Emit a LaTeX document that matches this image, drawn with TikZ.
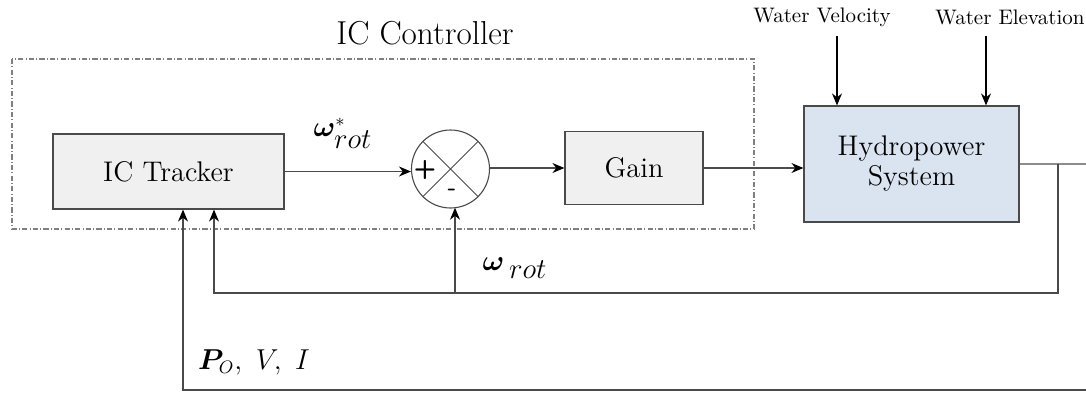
\documentclass[tikz,border=0pt]{standalone}
\usepackage{amsmath,bm}
\usetikzlibrary{arrows.meta,calc}

\definecolor{boxgray}{HTML}{F0F0F0}
\definecolor{plantblue}{HTML}{DAE3F0}
\definecolor{edgegray}{HTML}{4A4A4A}

\begin{document}
\begin{tikzpicture}[
  x=0.5pt, y=-0.5pt,
  link/.style={-{Stealth[length=6pt,width=5pt,color=black]}, line width=0.55pt, draw=edgegray},
  wire/.style={line width=0.55pt, draw=edgegray},
  block/.style={draw=edgegray, line width=0.6pt, fill=boxgray, inner sep=0pt,
    font=\fontsize{14.2}{16}\selectfont},
  plant/.style={block, fill=plantblue, align=center},
  sumnode/.style={circle, draw=edgegray, line width=0.55pt, fill=white, minimum size=39pt, inner sep=0pt},
  frame/.style={draw=black!50, line width=0.55pt, dash pattern=on 2.6pt off 1.1pt on 0.5pt off 1.1pt},
  note/.style={font=\fontsize{10.5}{12}\selectfont},
  sig/.style={font=\fontsize{13.5}{16}\selectfont},
]

\useasboundingbox (0,0) rectangle (1086,392);

% Coordinate system: one unit = one pixel of the 1086 x 392 picture

% Controller frame
\draw[frame] (12,59) rectangle (754,229);
\node[font=\fontsize{16.6}{19}\selectfont] (ctrltitle) at (425,33) {IC Controller};

% Blocks
\node[block, minimum width=115.5pt, minimum height=37.5pt] (tracker) at (168.5,171.5) {IC Tracker};
\node[sumnode] (sum) at (450.5,169) {};
\node[block, minimum width=69pt, minimum height=36.5pt] (gain) at (634,168) {Gain};
\node[plant, minimum width=107.5pt, minimum height=58pt] (hydro) at (911.5,164) {Hydropower\\[-1pt]System};

% Cross and signs of the summing junction
\draw[wire, line width=0.4pt] (sum.north west) -- (sum.south east);
\draw[wire, line width=0.4pt] (sum.north east) -- (sum.south west);
\node[font=\sffamily\bfseries\fontsize{13}{14}\selectfont] (plus) at (425,170) {+};
\node[font=\sffamily\bfseries\fontsize{12}{14}\selectfont] (minus) at (452,192) {-};

% Disturbance inputs
\node[note] (vel) at (822,17) {Water Velocity};
\node[note] (elev) at (1010,17) {Water Elevation};
\coordinate (velin) at (837,36);
\coordinate (elevin) at (986,36);
\draw[link, draw=black] (velin) -- (velin |- hydro.north);
\draw[link, draw=black] (elevin) -- (elevin |- hydro.north);

% Forward path
\draw[link] (tracker.east) -- (sum.west |- tracker.east);
\draw[link] (sum.east |- gain.west) -- (gain.west);
\draw[link] (gain.east) -- (hydro.west |- gain.east);
\coordinate (out) at (1086,164);
\draw[wire, draw=black!45] (hydro.east) -- (out);

% Speed feedback
\coordinate (tap) at (1058,164);
\coordinate (fbr) at (1058,293);
\coordinate (fbl) at (214,293);
\coordinate (fbsum) at (455,293);
\draw[link] (tap) -- (fbr) -- (fbl) -- (fbl |- tracker.south);
\draw[link] (fbsum) -- ($(sum.center)+(4.5,38.7)$);

% Measured power, voltage and current
\coordinate (pin) at (1086,390);
\coordinate (pcorner) at (183,390);
\draw[link] (pin) -- (pcorner) -- (pcorner |- tracker.south);

% Signal labels
\node[sig] (wref) at (343,133) {$\bm{\omega}^{*}_{\textstyle rot}$};
\node[sig] (wrot) at (515,268) {$\bm{\omega}\,{}_{\textstyle rot}$};
\node[sig] (pvi) at (254,362) {$\bm{P}_{O},\ V,\ I$};

\end{tikzpicture}
\end{document}
